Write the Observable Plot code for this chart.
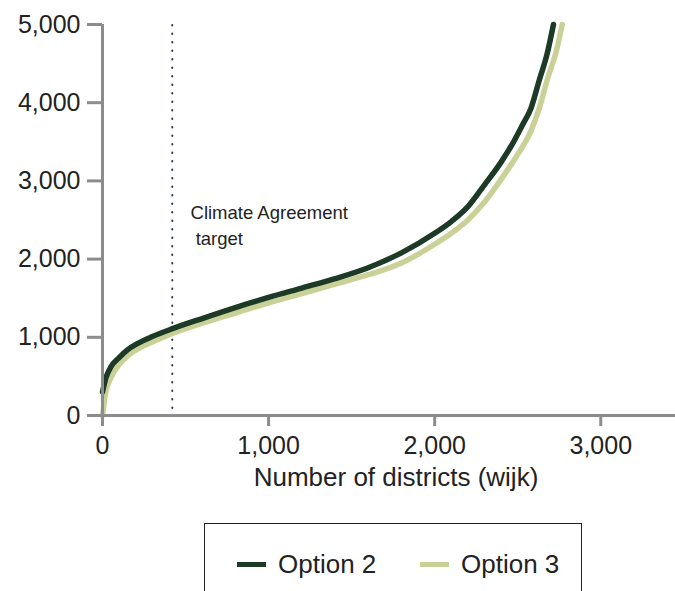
<!DOCTYPE html>
<html>
<head>
<meta charset="utf-8">
<script src="https://cdn.jsdelivr.net/npm/d3@7"></script>
<script src="https://cdn.jsdelivr.net/npm/@observablehq/plot@0.6"></script>
<style>
  body { margin: 0; background: #fff; font-family: "Liberation Sans", Arial, sans-serif; }
  #wrap { position: relative; width: 675px; height: 591px; overflow: hidden; }
  #legend { position: absolute; left: 204px; top: 523px; width: 378px; height: 90px;
            border: 1.3px solid #222; box-sizing: border-box; }
  .item { position: absolute; top: 25px; display: flex; align-items: center; font-size: 26px; color: #222; }
  .sw { width: 29px; height: 5px; margin-right: 12px; }
</style>
</head>
<body>
<div id="wrap">
  <div id="chart"></div>
  <div id="legend"></div>
</div>
<script>
const seriesNames = ["Option 2", "Option 3"];
const seriesColors = ["#1c3a26", "#c9d197"];

const opt2X = [0, 20, 50, 100, 150, 210, 300, 421, 600, 800, 1000, 1200, 1400, 1600, 1800, 2000, 2100, 2200, 2300, 2400, 2470, 2530, 2580, 2630, 2680, 2715];
const opt2Y = [300, 480, 620, 740, 840, 920, 1010, 1110, 1240, 1380, 1510, 1630, 1750, 1890, 2080, 2330, 2480, 2670, 2950, 3240, 3480, 3720, 3930, 4290, 4650, 5000];

const opt3X = [0, 20, 50, 100, 150, 220, 300, 421, 600, 800, 1000, 1200, 1400, 1600, 1800, 2000, 2100, 2200, 2300, 2400, 2470, 2530, 2580, 2630, 2680, 2730, 2768];
const opt3Y = [0, 300, 480, 650, 760, 860, 940, 1050, 1180, 1310, 1440, 1560, 1680, 1800, 1950, 2190, 2330, 2500, 2730, 3020, 3240, 3440, 3640, 3930, 4310, 4640, 5000];

const xTicks = [0, 1000, 2000, 3000];
const yTicks = [0, 1000, 2000, 3000, 4000, 5000];
const targetX = 420;
const annotation = "Climate Agreement\n target";
const xLabel = "Number of districts (wijk)";

const toRows = (xs, ys, name) => xs.map((x, i) => ({x, y: ys[i], series: name}));
const rows2 = toRows(opt2X, opt2Y, seriesNames[0]);
const rows3 = toRows(opt3X, opt3Y, seriesNames[1]);

const chart = Plot.plot({
  width: 675,
  height: 505,
  marginTop: 24,
  marginBottom: 90,
  marginLeft: 102,
  marginRight: 0,
  style: {fontFamily: "Liberation Sans, Arial, sans-serif", background: "#fff", overflow: "visible"},
  x: {domain: [0, 3450]},
  y: {domain: [0, 5000]},
  marks: [
    Plot.ruleX([targetX], {y1: 90, y2: 5000, stroke: "#2e3d5a", strokeWidth: 2, strokeDasharray: "0.5,8", strokeLinecap: "round"}),
    Plot.text([annotation], {x: 530, y: 2450, textAnchor: "start", fontSize: 18.5, fill: "#222", lineHeight: 1.4}),
    Plot.line(rows3, {x: "x", y: "y", stroke: seriesColors[1], strokeWidth: 5.5, curve: "monotone-x"}),
    Plot.line(rows2, {x: "x", y: "y", stroke: seriesColors[0], strokeWidth: 5.5, curve: "monotone-x"}),
    Plot.ruleY([0], {stroke: "#8c8c8c", strokeWidth: 3}),
    Plot.ruleX([0], {stroke: "#8c8c8c", strokeWidth: 3}),
    Plot.axisY({ticks: yTicks, tickFormat: d3.format(","), tickSize: 15, tickPadding: 7, fontSize: 25, stroke: "#8c8c8c", strokeWidth: 3, fill: "#222", label: null}),
    Plot.axisX({ticks: xTicks, tickFormat: d3.format(","), tickSize: 11, tickPadding: 10, fontSize: 25, stroke: "#8c8c8c", strokeWidth: 3, fill: "#222", label: null}),
    Plot.text([xLabel], {frameAnchor: "bottom", dy: 70, dx: 7, fontSize: 26, fill: "#222"})
  ]
});
document.getElementById("chart").appendChild(chart);

const legend = document.getElementById("legend");
const lefts = [32, 215];
seriesNames.forEach((name, i) => {
  const it = document.createElement("div");
  it.className = "item";
  it.style.left = lefts[i] + "px";
  const sw = document.createElement("span");
  sw.className = "sw";
  sw.style.background = seriesColors[i];
  it.appendChild(sw);
  it.appendChild(document.createTextNode(name));
  legend.appendChild(it);
});
</script>
</body>
</html>
